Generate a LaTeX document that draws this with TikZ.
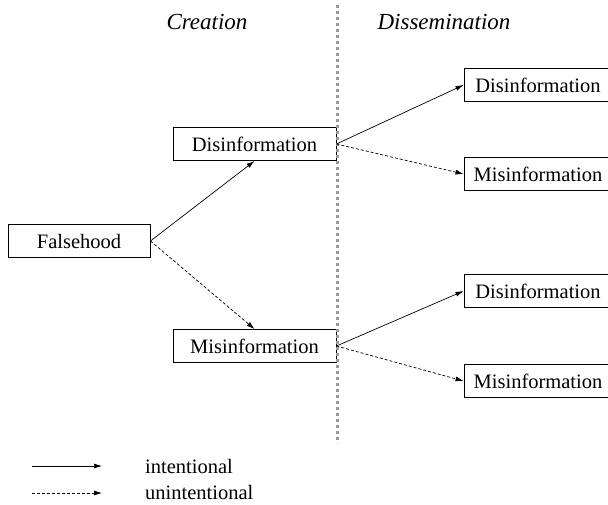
\documentclass[tikz,border=0pt]{standalone}
\usepackage{fontspec}
\setmainfont{Liberation Serif}
\usetikzlibrary{arrows.meta,positioning}

\begin{document}
\begin{tikzpicture}[%
    x=1pt, y=1pt,
    >={Latex[length=8pt,width=5pt]}, % Small filled tips
    node distance=10pt and 10pt,     % Global setup of box spacing
    ]
% -------------------------------------------------
% A few box styles
\tikzset{
  base/.style={on grid, align=center, inner sep=0pt,
    font=\fontsize{20.5}{24}\selectfont},
  box/.style={base, draw, line width=0.9pt, minimum width=163pt, minimum height=33pt},
  outbox/.style={box, minimum width=148pt},
  head/.style={base, font=\fontsize{23}{27}\selectfont\itshape},
  % Connector line styles
  intent/.style={->, line width=0.7pt},
  unint/.style={->, line width=0.7pt, dash pattern=on 3pt off 2pt},
  divider/.style={line width=3pt, gray!80, dash pattern=on 3pt off 3pt}
}
\path[use as bounding box, clip] (0,0) rectangle (608,504);
% -------------------------------------------------
% Start by placing the nodes
\node [box, minimum width=142pt] (fals) at (79,263) {Falsehood};
\node [box, above right=97pt and 175.5pt of fals] (credis) {Disinformation};
\node [box, below=202pt of credis] (cremis) {Misinformation};
\node [outbox, right=283.5pt of credis, yshift=59pt] (disdis) {Disinformation};
\node [outbox, right=283.5pt of credis, yshift=-30pt] (dismis) {Misinformation};
\node [outbox, right=283.5pt of cremis, yshift=55pt] (misdis) {Disinformation};
\node [outbox, right=283.5pt of cremis, yshift=-35pt] (mismis) {Misinformation};

% Column headings and the divider
\node [head] (crehead) at (207,482) {Creation};
\node [head] (dishead) at (444,482) {Dissemination};
\coordinate (divtop) at (337,499);
\coordinate (divbot) at (337,61);
\draw[divider] (divtop) -- (divbot);

\draw[intent] (fals.east) to (credis.south);
\draw[unint] (fals.east) to (cremis.north);
\draw[intent] (credis.east) to (disdis.west);
\draw[unint] (credis.east) to (dismis.west);
\draw[intent] (cremis.east) to (misdis.west);
\draw[unint] (cremis.east) to (mismis.west);

% -------------------------------------------------
% Legend
\coordinate (solA) at (32,38);
\coordinate (solB) at (102,38);
\coordinate (dasA) at (32,11);
\coordinate (dasB) at (102,11);
\draw[intent] (solA) -- (solB);
\draw[unint] (dasA) -- (dasB);
\node [base, anchor=west] (intlab) at (145,38) {intentional};
\node [base, anchor=west] (unilab) at (145,12) {unintentional};

% -------------------------------------------------
\end{tikzpicture}
\end{document}
